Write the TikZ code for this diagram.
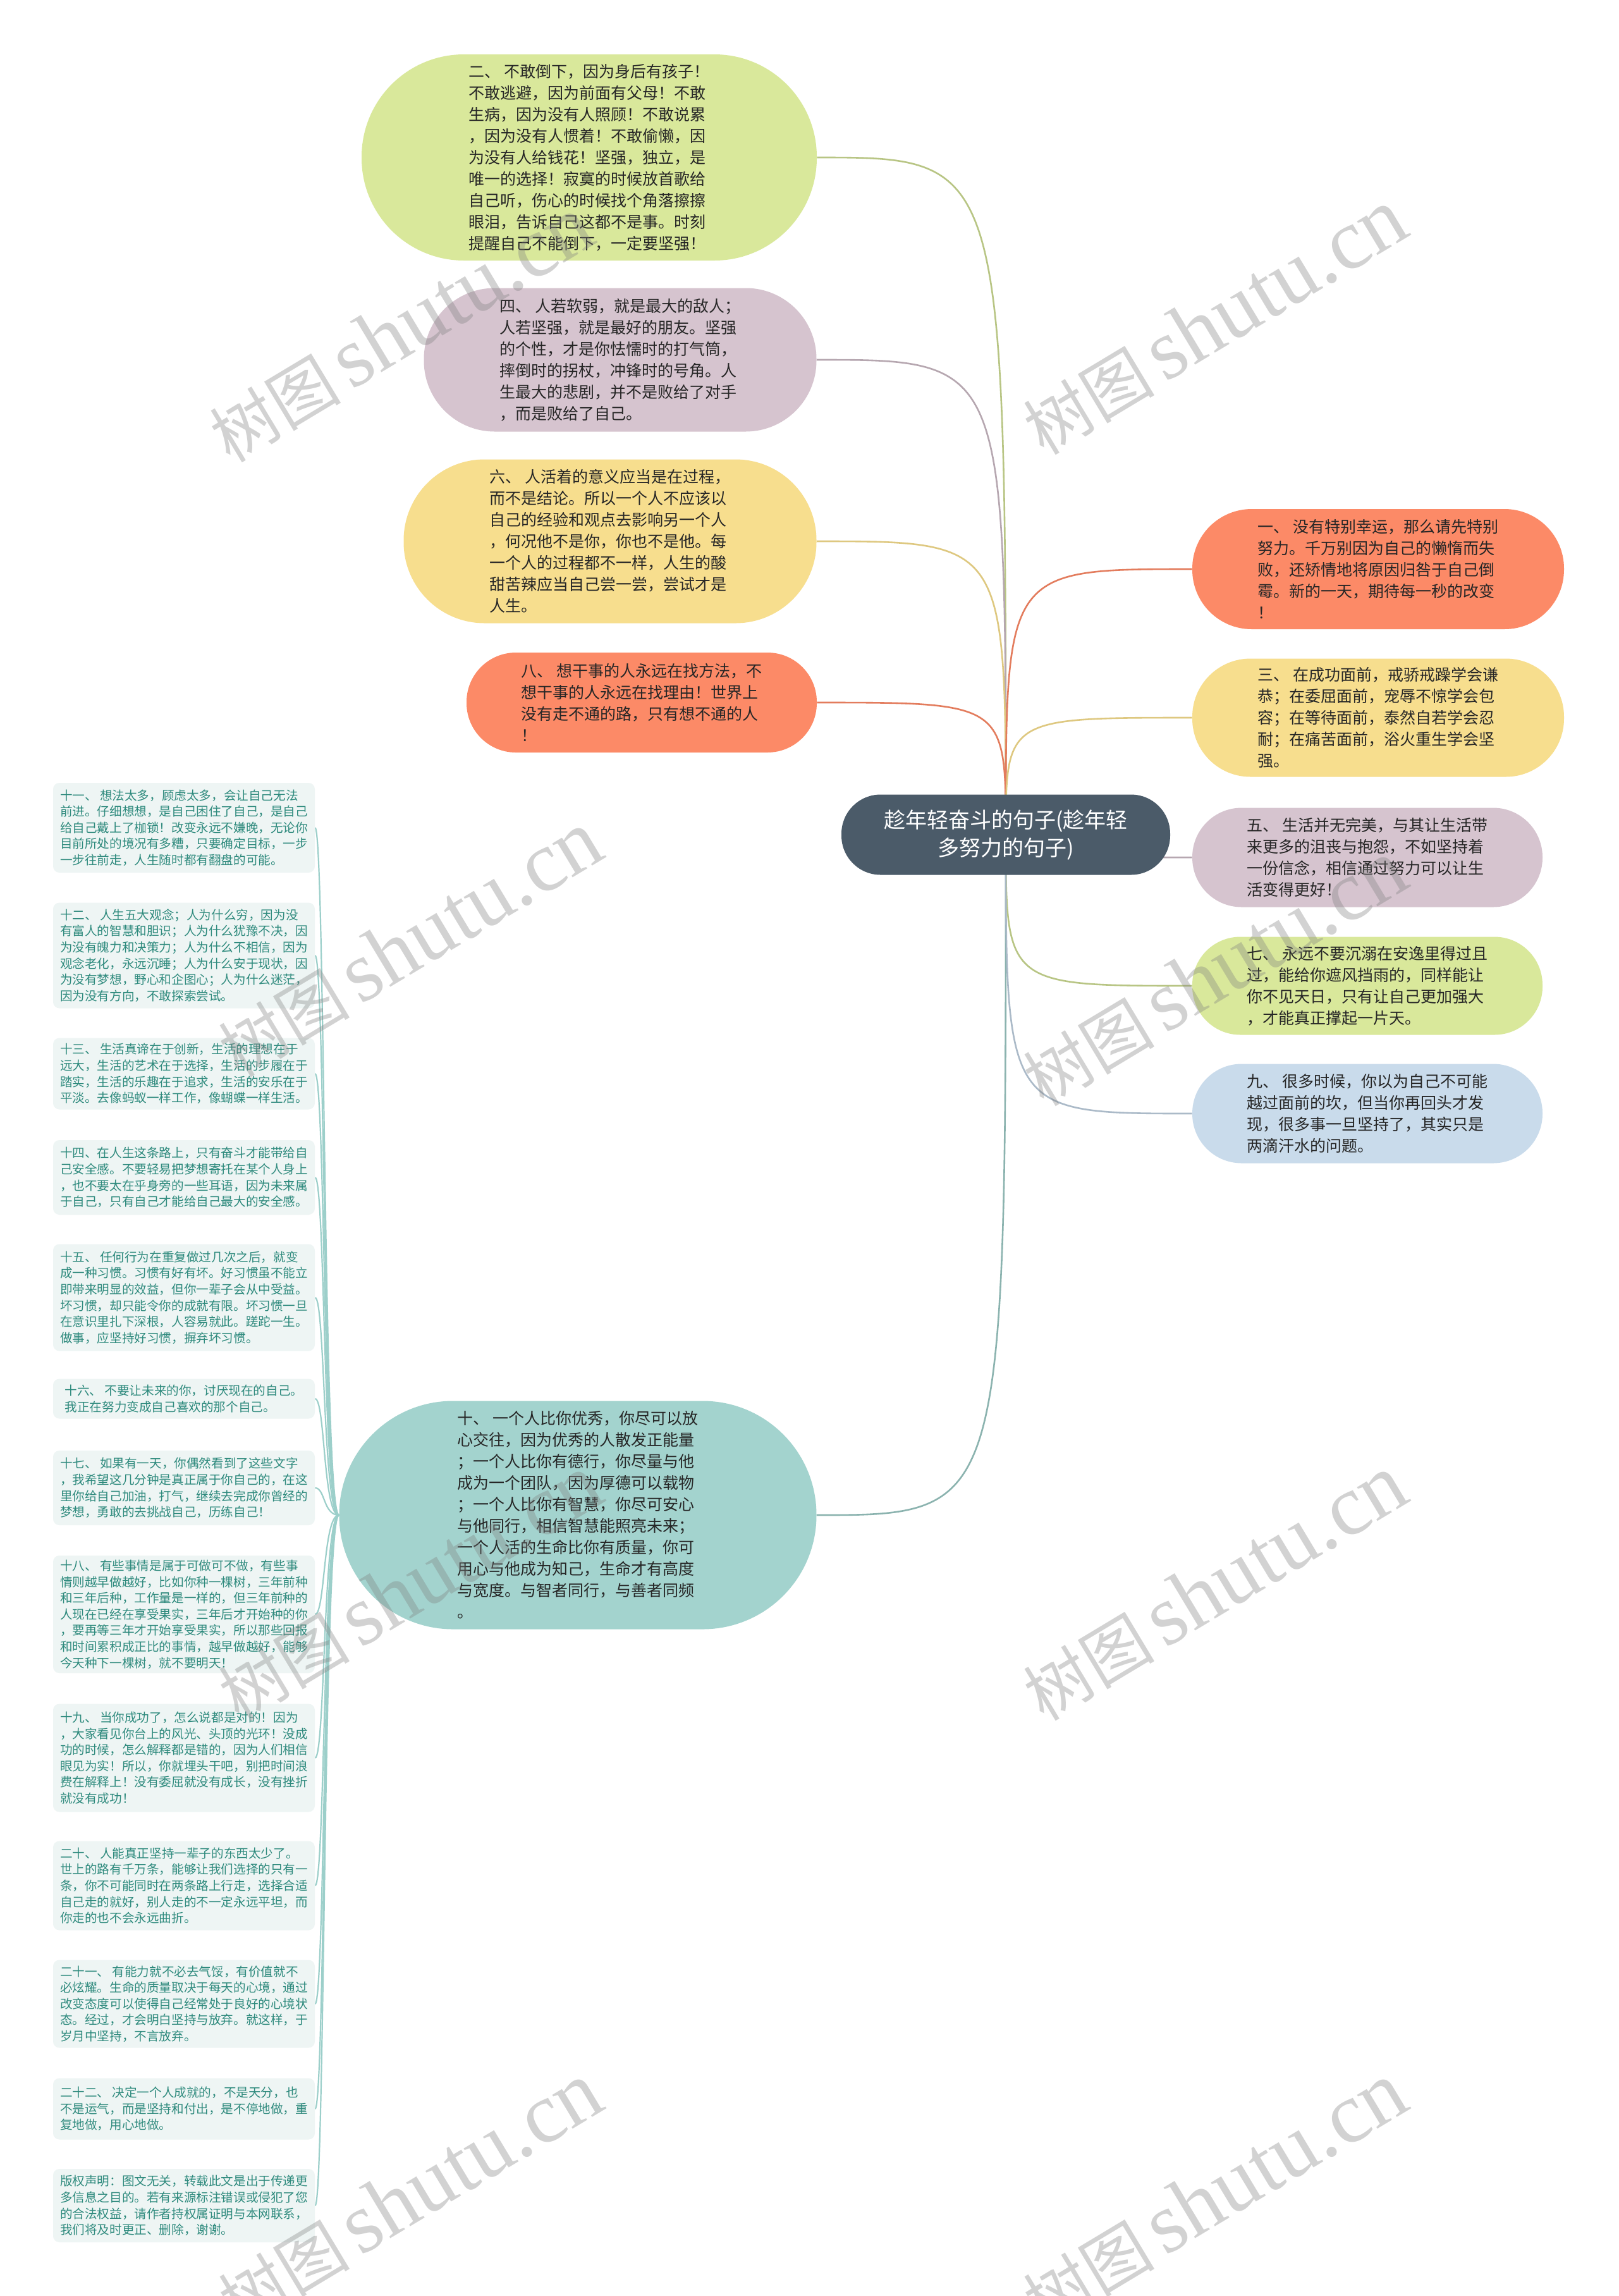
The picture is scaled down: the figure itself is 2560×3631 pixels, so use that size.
\documentclass[tikz,border=0pt]{standalone}
\usepackage{fontspec}
\setmainfont{Noto Sans CJK SC}
\newfontfamily\marklatin{Liberation Serif}

\definecolor{inkdark}{HTML}{262626}
\definecolor{rootslate}{HTML}{4B5B69}
\definecolor{pistachio}{HTML}{D9E89B}
\definecolor{mauve}{HTML}{D6C4CF}
\definecolor{butter}{HTML}{F7DE8E}
\definecolor{salmon}{HTML}{FC8A67}
\definecolor{skyblue}{HTML}{C9DBEB}
\definecolor{seafoam}{HTML}{A3D3CE}
\definecolor{leafpale}{HTML}{EEF5F4}
\definecolor{leafink}{HTML}{2E8A7D}
\definecolor{twigteal}{HTML}{9CCFCA}

\newcommand\bubblefont{\fontsize{12.5}{17}\selectfont}
\newcommand\leaffont{\fontsize{9.8}{12.8}\selectfont}
\newcommand\rootfont{\fontsize{17}{22}\selectfont}

\pgfdeclarelayer{paper}
\pgfdeclarelayer{wires}
\pgfsetlayers{paper,wires,main}

\begin{document}
\begin{tikzpicture}[x=0.5pt, y=-0.5pt,
  bubble/.style={inner sep=0pt, align=left, font=\bubblefont, text=inkdark},
  leaf/.style={fill=leafpale, rounded corners=5pt, minimum width=207pt, inner sep=0pt, align=left, font=\leaffont, text=leafink},
  wire/.style={line width=1.3pt},
  twig/.style={line width=1.1pt, draw=twigteal},
  watermark/.style={rotate=31, text=gray, opacity=0.35, inner sep=0pt}]

% Page
\begin{pgfonlayer}{paper}
\fill[white] (0,0) rectangle (2560,3631);
\end{pgfonlayer}
\useasboundingbox (0,0) rectangle (2560,3631);

% Root
\node[bubble, fill=rootslate, text=white, font=\rootfont, align=center, minimum width=260pt, minimum height=63.5pt, rounded corners=31pt] (root) at (1591,1320) {趁年轻奋斗的句子(趁年轻\\多努力的句子)};

% Left branches
\node[bubble, fill=pistachio, minimum width=360pt, minimum height=163pt, rounded corners=81pt] (two) at (932,249) {二、 不敢倒下，因为身后有孩子！\\不敢逃避，因为前面有父母！不敢\\生病，因为没有人照顾！不敢说累\\，因为没有人惯着！不敢偷懒，因\\为没有人给钱花！坚强，独立，是\\唯一的选择！寂寞的时候放首歌给\\自己听，伤心的时候找个角落擦擦\\眼泪，告诉自己这都不是事。时刻\\提醒自己不能倒下，一定要坚强！};
\node[bubble, fill=mauve, minimum width=310.5pt, minimum height=113.5pt, rounded corners=56pt] (four) at (981,569) {四、 人若软弱，就是最大的敌人；\\人若坚强，就是最好的朋友。坚强\\的个性，才是你怯懦时的打气筒，\\摔倒时的拐杖，冲锋时的号角。人\\生最大的悲剧，并不是败给了对手\\，而是败给了自己。};
\node[bubble, fill=butter, minimum width=326.5pt, minimum height=129.5pt, rounded corners=64pt] (six) at (965,856) {六、 人活着的意义应当是在过程，\\而不是结论。所以一个人不应该以\\自己的经验和观点去影响另一个人\\，何况他不是你，你也不是他。每\\一个人的过程都不一样，人生的酸\\甜苦辣应当自己尝一尝，尝试才是\\人生。};
\node[bubble, fill=salmon, minimum width=277pt, minimum height=79pt, rounded corners=39pt] (eight) at (1015,1111) {八、 想干事的人永远在找方法，不\\想干事的人永远在找理由！世界上\\没有走不通的路，只有想不通的人\\！};
\node[bubble, fill=seafoam, minimum width=377.5pt, minimum height=180.5pt, rounded corners=90pt] (ten) at (914,2396) {十、 一个人比你优秀，你尽可以放\\心交往，因为优秀的人散发正能量\\；一个人比你有德行，你尽量与他\\成为一个团队，因为厚德可以载物\\；一个人比你有智慧，你尽可安心\\与他同行，相信智慧能照亮未来；\\一个人活的生命比你有质量，你可\\用心与他成为知己，生命才有高度\\与宽度。与智者同行，与善者同频\\。};

% Right branches
\node[bubble, fill=salmon, minimum width=294pt, minimum height=95pt, rounded corners=47pt] (one) at (2180,900) {一、 没有特别幸运，那么请先特别\\努力。千万别因为自己的懒惰而失\\败，还矫情地将原因归咎于自己倒\\霉。新的一天，期待每一秒的改变\\！};
\node[bubble, fill=butter, minimum width=294pt, minimum height=93.5pt, rounded corners=46pt] (three) at (2180,1135) {三、 在成功面前，戒骄戒躁学会谦\\恭；在委屈面前，宠辱不惊学会包\\容；在等待面前，泰然自若学会忍\\耐；在痛苦面前，浴火重生学会坚\\强。};
\node[bubble, fill=mauve, minimum width=277pt, minimum height=78.5pt, rounded corners=39pt] (five) at (2163,1356) {五、 生活并无完美，与其让生活带\\来更多的沮丧与抱怨，不如坚持着\\一份信念，相信通过努力可以让生\\活变得更好！};
\node[bubble, fill=pistachio, minimum width=277pt, minimum height=77.5pt, rounded corners=38pt] (seven) at (2163,1559) {七、 永远不要沉溺在安逸里得过且\\过，能给你遮风挡雨的，同样能让\\你不见天日，只有让自己更加强大\\，才能真正撑起一片天。};
\node[bubble, fill=skyblue, minimum width=277pt, minimum height=78.5pt, rounded corners=39pt] (nine) at (2163,1761) {九、 很多时候，你以为自己不可能\\越过面前的坎，但当你再回头才发\\现，很多事一旦坚持了，其实只是\\两滴汗水的问题。};

% Leaves of ten
\node[leaf, minimum height=71pt] (s11) at (291,1309) {十一、 想法太多，顾虑太多，会让自己无法\\前进。仔细想想，是自己困住了自己，是自己\\给自己戴上了枷锁！改变永远不嫌晚，无论你\\目前所处的境况有多糟，只要确定目标，一步\\一步往前走，人生随时都有翻盘的可能。};
\node[leaf, minimum height=83.5pt] (s12) at (291,1511) {十二、 人生五大观念；人为什么穷，因为没\\有富人的智慧和胆识；人为什么犹豫不决，因\\为没有魄力和决策力；人为什么不相信，因为\\观念老化，永远沉睡；人为什么安于现状，因\\为没有梦想，野心和企图心；人为什么迷茫，\\因为没有方向，不敢探索尝试。};
\node[leaf, minimum height=56.5pt] (s13) at (291,1698) {十三、 生活真谛在于创新，生活的理想在于\\远大，生活的艺术在于选择，生活的步履在于\\踏实，生活的乐趣在于追求，生活的安乐在于\\平淡。去像蚂蚁一样工作，像蝴蝶一样生活。};
\node[leaf, minimum height=59pt] (s14) at (291,1862) {十四、在人生这条路上，只有奋斗才能带给自\\己安全感。不要轻易把梦想寄托在某个人身上\\，也不要太在乎身旁的一些耳语，因为未来属\\于自己，只有自己才能给自己最大的安全感。};
\node[leaf, minimum height=84.5pt] (s15) at (291,2052) {十五、 任何行为在重复做过几次之后，就变\\成一种习惯。习惯有好有坏。好习惯虽不能立\\即带来明显的效益，但你一辈子会从中受益。\\坏习惯，却只能令你的成就有限。坏习惯一旦\\在意识里扎下深根，人容易就此。蹉跎一生。\\做事，应坚持好习惯，摒弃坏习惯。};
\node[leaf, minimum height=31.5pt] (s16) at (291,2212) {十六、 不要让未来的你，讨厌现在的自己。\\我正在努力变成自己喜欢的那个自己。};
\node[leaf, minimum height=59pt] (s17) at (291,2353) {十七、 如果有一天，你偶然看到了这些文字\\，我希望这几分钟是真正属于你自己的，在这\\里你给自己加油，打气，继续去完成你曾经的\\梦想，勇敢的去挑战自己，历练自己！};
\node[leaf, minimum height=93pt] (s18) at (291,2553) {十八、 有些事情是属于可做可不做，有些事\\情则越早做越好，比如你种一棵树，三年前种\\和三年后种，工作量是一样的，但三年前种的\\人现在已经在享受果实，三年后才开始种的你\\，要再等三年才开始享受果实，所以那些回报\\和时间累积成正比的事情，越早做越好，能够\\今天种下一棵树，就不要明天！};
\node[leaf, minimum height=85.5pt] (s19) at (291,2780) {十九、 当你成功了，怎么说都是对的！因为\\，大家看见你台上的风光、头顶的光环！没成\\功的时候，怎么解释都是错的，因为人们相信\\眼见为实！所以，你就埋头干吧，别把时间浪\\费在解释上！没有委屈就没有成长，没有挫折\\就没有成功！};
\node[leaf, minimum height=70.5pt] (s20) at (291,2982) {二十、 人能真正坚持一辈子的东西太少了。\\世上的路有千万条，能够让我们选择的只有一\\条，你不可能同时在两条路上行走，选择合适\\自己走的就好，别人走的不一定永远平坦，而\\你走的也不会永远曲折。};
\node[leaf, minimum height=69.5pt] (s21) at (291,3169) {二十一、 有能力就不必去气馁，有价值就不\\必炫耀。生命的质量取决于每天的心境，通过\\改变态度可以使得自己经常处于良好的心境状\\态。经过，才会明白坚持与放弃。就这样，于\\岁月中坚持，不言放弃。};
\node[leaf, minimum height=48.5pt] (s22) at (291,3335) {二十二、 决定一个人成就的，不是天分，也\\不是运气，而是坚持和付出，是不停地做，重\\复地做，用心地做。};
\node[leaf, minimum height=58pt] (notice) at (291,3488) {版权声明：图文无关，转载此文是出于传递更\\多信息之目的。若有来源标注错误或侵犯了您\\的合法权益，请作者持权属证明与本网联系，\\我们将及时更正、删除，谢谢。};

% Connectors
\begin{pgfonlayer}{wires}
\draw[wire, draw=pistachio!85!black] (root.center) .. controls (root.center |- two.east) .. (two.east);
\draw[wire, draw=mauve!85!black] (root.center) .. controls (root.center |- four.east) .. (four.east);
\draw[wire, draw=butter!90!black] (root.center) .. controls (root.center |- six.east) .. (six.east);
\draw[wire, draw=salmon!90!black] (root.center) .. controls (root.center |- eight.east) .. (eight.east);
\draw[wire, draw=seafoam!85!black] (root.center) .. controls (root.center |- ten.east) .. (ten.east);
\draw[wire, draw=salmon!90!black] (root.center) .. controls (root.center |- one.west) .. (one.west);
\draw[wire, draw=butter!90!black] (root.center) .. controls (root.center |- three.west) .. (three.west);
\draw[wire, draw=mauve!85!black] (root.center) .. controls (root.center |- five.west) .. (five.west);
\draw[wire, draw=pistachio!85!black] (root.center) .. controls (root.center |- seven.west) .. (seven.west);
\draw[wire, draw=skyblue!85!black] (root.center) .. controls (root.center |- nine.west) .. (nine.west);
\foreach \leafname in {s11,s12,s13,s14,s15,s16,s17,s18,s19,s20,s21,s22,notice}
  \draw[twig] (ten.west) .. controls +(-25,0) and +(16,0) .. (\leafname.east);
\end{pgfonlayer}

% Watermarks
\foreach \wx/\wy [count=\k] in {634/521,1921/509,648/1493,1921/1539,648/2511,1921/2511,648/3472,1921/3472}
  \node[watermark] (mark\k) at (\wx,\wy) {\fontsize{52}{52}\selectfont 树图\hspace{8pt}{\marklatin\fontsize{68}{68}\selectfont shutu.cn}};

\end{tikzpicture}
\end{document}
